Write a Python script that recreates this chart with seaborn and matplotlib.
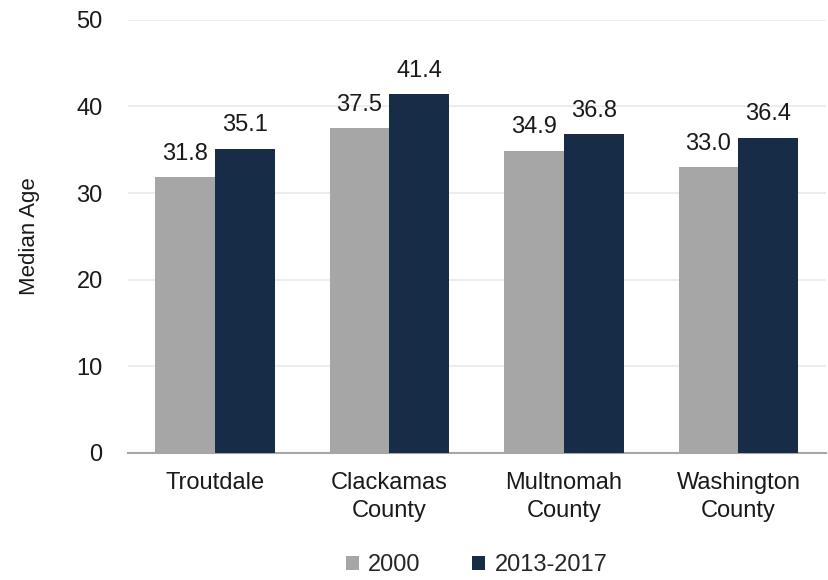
import pandas as pd
import matplotlib.pyplot as plt
import seaborn as sns

# data
places = ['Troutdale', 'Clackamas\nCounty', 'Multnomah\nCounty', 'Washington\nCounty']
age_2000 = [31.8, 37.5, 34.9, 33.0]
age_2017 = [35.1, 41.4, 36.8, 36.4]
periods = ['2000', '2013-2017']
colors = ['#A6A6A6', '#172D47']

df = pd.DataFrame({
    'place': places * 2,
    'age': age_2000 + age_2017,
    'period': [periods[0]] * 4 + [periods[1]] * 4,
})

sns.set_theme(style='white')
plt.rcParams['font.family'] = ['Liberation Sans', 'DejaVu Sans']

fig = plt.figure(figsize=(8.29, 5.8), dpi=100)
ax = fig.add_axes([0.154, 0.219, 0.842, 0.747])

sns.barplot(data=df, x='place', y='age', hue='period', palette=colors,
            width=0.686, saturation=1, linewidth=0, ax=ax, zorder=3)

# value labels above bars
for cont in ax.containers:
    ax.bar_label(cont, fmt='%.1f', fontsize=17, padding=9, color='#1a1a1a')

ax.set_ylim(0, 50)
ax.set_yticks(range(0, 51, 10))
ax.set_xlim(-0.5, 3.5)
ax.yaxis.grid(True, color='#EDEDED', linewidth=1.5, zorder=0)
ax.set_axisbelow(True)
ax.set_xlabel('')
ax.set_ylabel('Median Age', fontsize=16, labelpad=26, color='#1a1a1a')
ax.tick_params(axis='y', labelsize=17, colors='#1a1a1a', length=0, pad=18)
ax.tick_params(axis='x', labelsize=17, colors='#1a1a1a', length=0, pad=14)
for lab in ax.get_xticklabels():
    lab.set_linespacing(1.3)
for s in ['top', 'right', 'left']:
    ax.spines[s].set_visible(False)
ax.spines['bottom'].set_color('#A6A6A6')
ax.spines['bottom'].set_linewidth(1.5)

ax.legend(loc='upper center', bbox_to_anchor=(0.5, -0.185), ncol=2, frameon=False,
          fontsize=17, handlelength=0.55, handleheight=0.55, handletextpad=0.4,
          columnspacing=2.2)

plt.savefig('out.png', dpi=100)
plt.close()
